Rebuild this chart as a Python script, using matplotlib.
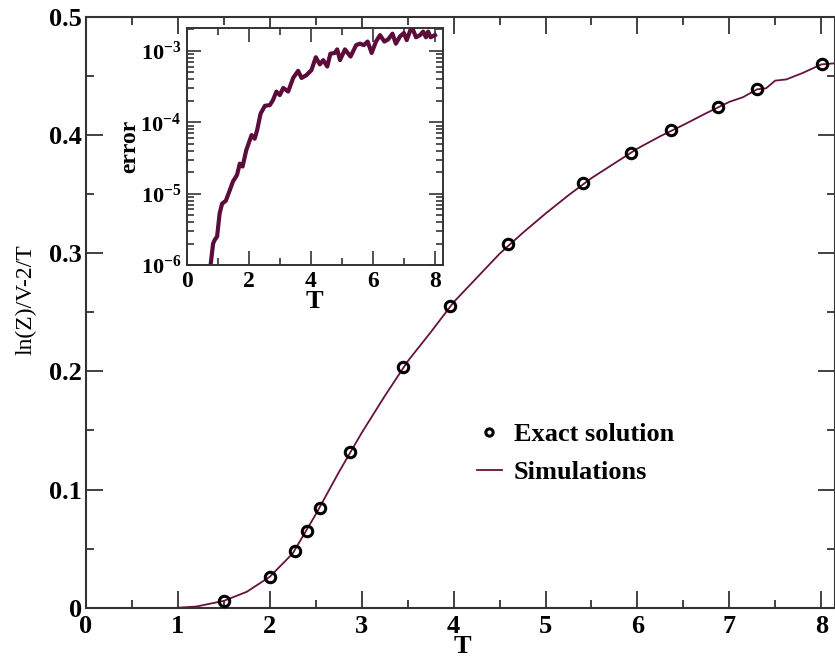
import numpy as np
import matplotlib
matplotlib.use("Agg")
import matplotlib.pyplot as plt
from matplotlib.ticker import MultipleLocator, LogLocator, NullFormatter, FixedLocator

plt.rcParams['font.family'] = ['Liberation Serif', 'DejaVu Serif']
plt.rcParams['mathtext.fontset'] = 'custom'
plt.rcParams['mathtext.rm'] = 'Liberation Serif:bold'
plt.rcParams['mathtext.bf'] = 'Liberation Serif:bold'

# Exact solution points
exact_T = [1.5, 2.0, 2.275, 2.405, 2.543, 2.874, 3.45, 3.96, 4.596, 5.41, 5.93, 6.365, 6.877, 7.30, 8.01]
exact_v = [0.0056, 0.0262, 0.0482, 0.0651, 0.0846, 0.1317, 0.2034, 0.2555, 0.3074, 0.359, 0.385, 0.404, 0.4239, 0.4386, 0.4597]

# Simulation curve
sim_T = [1.0, 1.2, 1.5, 1.75, 2.0, 2.25, 2.5, 2.75, 3.0, 3.25, 3.5, 3.75, 4.0, 4.25, 4.5,
         4.75, 5.0, 5.25, 5.5, 5.75, 6.0, 6.25, 6.5, 6.75, 7.0, 7.15, 7.3, 7.4, 7.5, 7.62, 7.8, 8.0, 8.14]
sim_v = [0.0, 0.001, 0.0058, 0.0135, 0.0262, 0.046, 0.079, 0.1145, 0.148, 0.179, 0.2085, 0.233, 0.2585,
         0.279, 0.2995, 0.317, 0.3335, 0.349, 0.3635, 0.376, 0.3885, 0.399, 0.4085, 0.4185, 0.428,
         0.432, 0.4386, 0.4395, 0.446, 0.447, 0.4525, 0.4597, 0.4606]

# Simulation error (inset)
err_T = [0.77, 0.85, 0.90, 0.98, 1.06, 1.14, 1.26, 1.39, 1.49, 1.62, 1.71, 1.80, 1.92, 2.09, 2.19,
         2.27, 2.38, 2.52, 2.68, 2.78, 2.89, 3.00, 3.11, 3.27, 3.43, 3.59, 3.70, 3.86, 4.02, 4.16,
         4.29, 4.40, 4.53, 4.63, 4.77, 4.85, 4.94, 5.10, 5.28, 5.46, 5.58, 5.71, 5.83, 5.96, 6.10,
         6.23, 6.37, 6.49, 6.63, 6.74, 6.87, 7.00, 7.09, 7.25, 7.39, 7.52, 7.62, 7.71, 7.78, 7.86, 8.00]
err_log = [-6.00, -5.70, -5.65, -5.60, -5.28, -5.14, -5.10, -4.95, -4.83, -4.74, -4.58, -4.62, -4.39,
           -4.18, -4.23, -4.11, -3.88, -3.77, -3.76, -3.69, -3.57, -3.62, -3.52, -3.57, -3.38, -3.28,
           -3.38, -3.34, -3.27, -3.09, -3.19, -3.13, -3.22, -3.04, -3.03, -2.98, -3.13, -2.98, -3.08,
           -2.92, -2.90, -2.92, -2.87, -3.03, -2.87, -2.78, -2.87, -2.84, -2.76, -2.90, -2.80, -2.75,
           -2.85, -2.66, -2.81, -2.78, -2.73, -2.81, -2.73, -2.81, -2.78]

main_xticks = [0, 1, 2, 3, 4, 5, 6, 7, 8]
main_yticks = [0, 0.1, 0.2, 0.3, 0.4, 0.5]
main_ytick_labels = ['0', '0.1', '0.2', '0.3', '0.4', '0.5']
inset_xticks = [0, 2, 4, 6, 8]
inset_yticks = [1e-6, 1e-5, 1e-4, 1e-3]
inset_ytick_labels = [r'$\mathbf{10^{-6}}$', r'$\mathbf{10^{-5}}$', r'$\mathbf{10^{-4}}$', r'$\mathbf{10^{-3}}$']

line_color = '#66113f'
inset_color = '#5c0c3a'
axis_color = '#333333'

fig = plt.figure(figsize=(8.35, 6.61), dpi=100)
ax = fig.add_axes([0.103, 0.0806, 0.897, 0.894])

ax.plot(sim_T, sim_v, color=line_color, lw=1.3, label='Simulations', zorder=2)
ax.plot(exact_T, exact_v, linestyle='none', marker='o', ms=7.5, mfc='none', mec='black',
        mew=2.2, label='Exact solution', zorder=3)

ax.set_xlim(0, 8.15)
ax.set_ylim(0, 0.5)
ax.set_xticks(main_xticks)
ax.set_xticklabels([str(t) for t in main_xticks])
ax.set_yticks(main_yticks)
ax.set_yticklabels(main_ytick_labels)
ax.xaxis.set_minor_locator(MultipleLocator(0.5))
ax.yaxis.set_minor_locator(MultipleLocator(0.05))
ax.tick_params(which='both', direction='in', top=True, right=True, width=1.3, color=axis_color)
ax.tick_params(which='major', length=12, labelsize=19)
ax.tick_params(axis='y', which='major', pad=3)
ax.tick_params(axis='x', which='major', pad=5)
ax.tick_params(which='minor', length=6)
for lab in ax.get_xticklabels() + ax.get_yticklabels():
    lab.set_fontweight('bold')
for sp in ax.spines.values():
    sp.set_linewidth(1.5)
    sp.set_color(axis_color)

ax.set_xlabel('T', fontsize=19, fontweight='bold')
ax.xaxis.set_label_coords(0.503, -0.047)
ax.set_ylabel('ln(Z)/V-2/T', fontsize=17)
ax.yaxis.set_label_coords(-0.066, 0.521)

handles, labels = ax.get_legend_handles_labels()
leg = ax.legend(handles[::-1], labels[::-1], loc='upper left', bbox_to_anchor=(0.49, 0.353),
                frameon=False, prop={'weight': 'bold', 'size': 19}, handlelength=0.95,
                handletextpad=0.45, labelspacing=0.55, markerscale=0.7)

# Inset with the simulation error
ins = fig.add_axes([0.2236, 0.599, 0.3066, 0.358])
ins.plot(err_T, np.power(10.0, err_log), color=inset_color, lw=3.0)
ins.set_yscale('log')
ins.set_xlim(0, 8.25)
ins.set_ylim(1e-6, 2.06e-3)
ins.set_xticks(inset_xticks)
ins.set_xticklabels([str(t) for t in inset_xticks])
ins.xaxis.set_minor_locator(MultipleLocator(1))
ins.yaxis.set_major_locator(FixedLocator(inset_yticks))
ins.set_yticklabels(inset_ytick_labels)
ins.yaxis.set_minor_locator(LogLocator(base=10, subs=np.arange(2, 10), numticks=20))
ins.yaxis.set_minor_formatter(NullFormatter())
ins.tick_params(which='both', direction='in', top=True, right=True, width=1.2, color=axis_color)
ins.tick_params(which='major', length=10, labelsize=17)
ins.tick_params(axis='y', which='major', labelsize=16, pad=4)
ins.tick_params(axis='x', which='major', pad=4)
ins.tick_params(which='minor', length=5)
for lab in ins.get_xticklabels():
    lab.set_fontweight('bold')
for sp in ins.spines.values():
    sp.set_linewidth(1.4)
    sp.set_color(axis_color)
ins.set_xlabel('T', fontsize=19, fontweight='bold', labelpad=-1)
ins.set_ylabel('error', fontsize=17, fontweight='bold', labelpad=0)

fig.savefig('out.png', dpi=100)
